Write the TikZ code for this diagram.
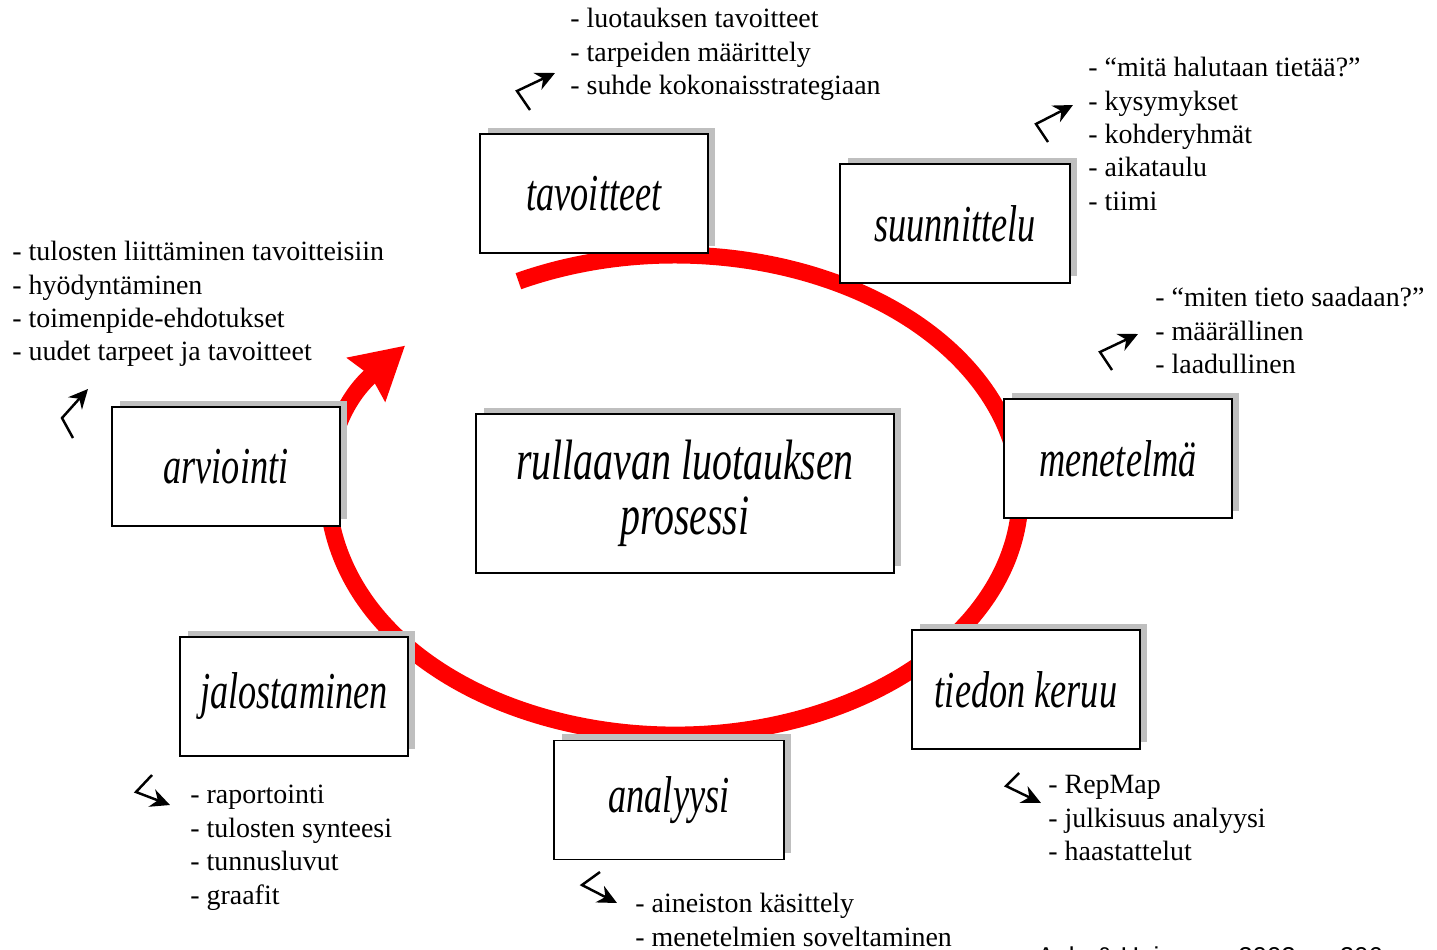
\documentclass[tikz,border=0pt]{standalone}
\usepackage{fontspec}
\setmainfont{Liberation Serif}
\newfontfamily\boxfont[FakeStretch=0.7]{Liberation Serif}
\newfontfamily\citefont{Liberation Sans}
\usetikzlibrary{arrows.meta,shadows}

\begin{document}
\begin{tikzpicture}[x=0.02cm,y=-0.02cm,
  stepbox/.style={draw,line width=1.1pt,fill=white,minimum width=4.56cm,minimum height=2.38cm,inner sep=0pt,
    general shadow={shadow xshift=0.15cm,shadow yshift=0.13cm,fill=black!25},
    font=\boxfont\itshape\fontsize{29.5}{31}\selectfont},
  notes/.style={anchor=north west,align=left,inner sep=0pt,font=\fontsize{15.9}{19}\selectfont},
  pointer/.style={line width=1.4pt,-{Stealth[length=11pt,width=10.5pt]}},
  ring/.style={red,line width=0.34cm,-{Stealth[length=29pt,width=32pt,inset=3pt]}}]
\useasboundingbox (0,0) rectangle (1437,950);
\clip (0,0) rectangle (1437,950);
% the process ring
\draw [ring] (518.4,281.2) arc [start angle=-117,end angle=218.5,x radius=345,y radius=240];
% steps
\node [stepbox] (tavoitteet) at (594,193.5) {tavoitteet};
\node [stepbox,minimum width=4.6cm] (suunnittelu) at (955,223.5) {suunnittelu};
\node [stepbox] (menetelma) at (1118,458.5) {menetelmä};
\node [stepbox] (keruu) at (1026,689.5) {tiedon keruu};
\node [stepbox,minimum width=4.6cm] (analyysi) at (669,800) {analyysi};
\node [stepbox] (jalostaminen) at (294,696.5) {jalostaminen};
\node [stepbox] (arviointi) at (226,466.5) {arviointi};
\node [stepbox,minimum width=8.36cm,minimum height=3.18cm,align=center,
  font=\boxfont\itshape\fontsize{32.4}{31.2}\selectfont] (prosessi) at (685,493.5) {rullaavan luotauksen\\prosessi};
% notes
\node [notes] (n1) at (570,8) {- luotauksen tavoitteet\\- tarpeiden määrittely\\- suhde kokonaisstrategiaan};
\node [notes] (n2) at (1088,57) {- “mitä halutaan tietää?”\\- kysymykset\\- kohderyhmät\\- aikataulu\\- tiimi};
\node [notes] (n3) at (1155,287) {- “miten tieto saadaan?”\\- määrällinen\\- laadullinen};
\node [notes] (n4) at (1048,775) {- RepMap\\- julkisuus analyysi\\- haastattelut};
\node [notes] (n5) at (635,893) {- aineiston käsittely\\- menetelmien soveltaminen};
\node [notes] (n6) at (190,785) {- raportointi\\- tulosten synteesi\\- tunnusluvut\\- graafit};
\node [notes] (n7) at (12,241) {- tulosten liittäminen tavoitteisiin\\- hyödyntäminen\\- toimenpide-ehdotukset\\- uudet tarpeet ja tavoitteet};
% pointers
\coordinate (p1a) at (530,110);
\coordinate (p1b) at (517,91);
\coordinate (p1c) at (555,73);
\coordinate (p2a) at (1048,142);
\coordinate (p2b) at (1036,124);
\coordinate (p2c) at (1073,105);
\coordinate (p3a) at (1112,370);
\coordinate (p3b) at (1100,352);
\coordinate (p3c) at (1138,334);
\coordinate (p4a) at (1019,773);
\coordinate (p4b) at (1006,786);
\coordinate (p4c) at (1041,803);
\coordinate (p5a) at (600,872);
\coordinate (p5b) at (582,885);
\coordinate (p5c) at (617,903);
\coordinate (p6a) at (152,775);
\coordinate (p6b) at (136,792);
\coordinate (p6c) at (170,805);
\coordinate (p7a) at (73,438);
\coordinate (p7b) at (62,418);
\coordinate (p7c) at (88,389);
\draw [pointer] (p1a) -- (p1b) -- (p1c);
\draw [pointer] (p2a) -- (p2b) -- (p2c);
\draw [pointer] (p3a) -- (p3b) -- (p3c);
\draw [pointer] (p4a) -- (p4b) -- (p4c);
\draw [pointer] (p5a) -- (p5b) -- (p5c);
\draw [pointer] (p6a) -- (p6b) -- (p6c);
\draw [pointer] (p7a) -- (p7b) -- (p7c);
% source
\node [anchor=base west,inner sep=0pt,font=\citefont\fontsize{14.7}{17}\selectfont] (lahde) at (1037,965) {Aula \& Heinonen 2002, s. 206};
\end{tikzpicture}
\end{document}
